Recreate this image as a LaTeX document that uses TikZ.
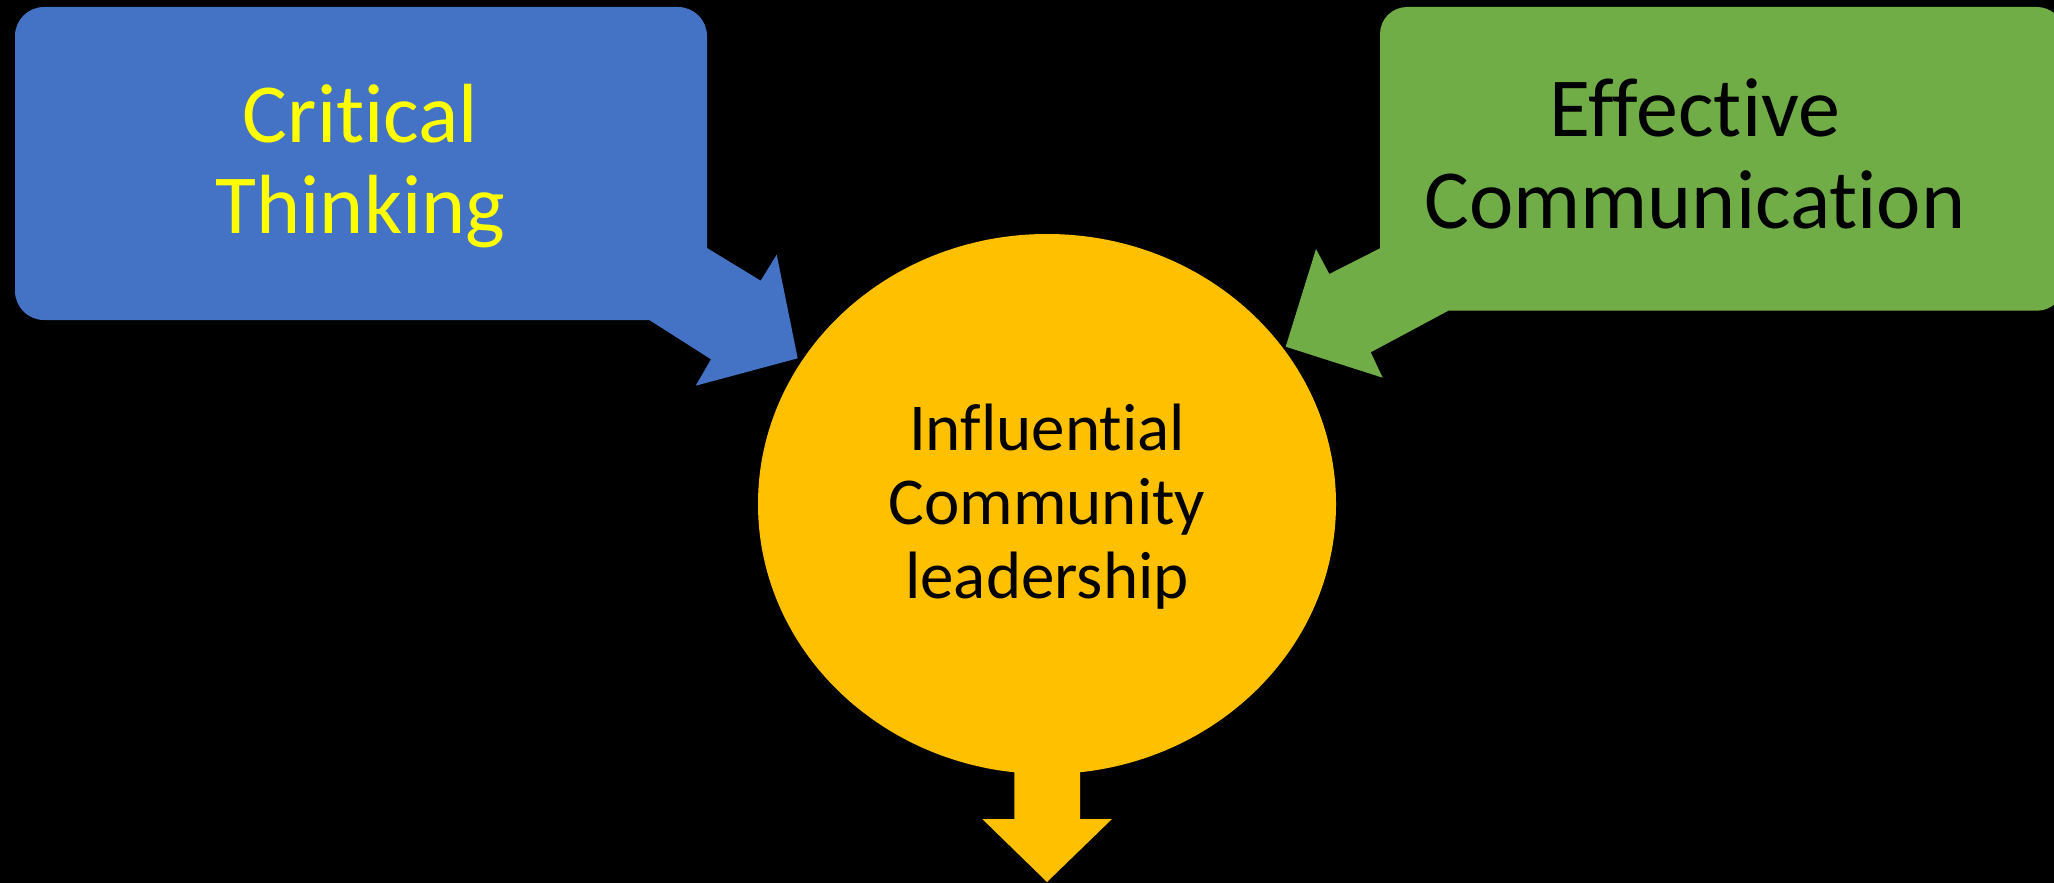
\documentclass[tikz,border=0pt]{standalone}
\usepackage{fontspec}
\setmainfont{Carlito}[Ligatures=NoCommon]
\definecolor{bgblack}{HTML}{000000}
\definecolor{calblue}{HTML}{4472C4}
\definecolor{calgreen}{HTML}{70AD47}
\definecolor{calgold}{HTML}{FFC000}
\definecolor{calyellow}{HTML}{FFFF00}
\tikzset{
  lbl/.style={inner sep=0pt, align=center, anchor=center},
  bluetext/.style={lbl, text=calyellow, font=\fontsize{84}{91}\selectfont},
  greentext/.style={lbl, text=black, font=\fontsize{84}{92}\selectfont},
  goldtext/.style={lbl, text=black, font=\fontsize{67}{74}\selectfont},
}
\begin{document}
\begin{tikzpicture}[x=1pt,y=-1pt]
  \fill[bgblack] (0,0) rectangle (2054,883);
  \useasboundingbox (0,0) rectangle (2054,883);
  % blue callout
  \fill[calblue] (400,320) [rounded corners=29pt] -- (15,320) -- (15,7) -- (707,7)
    [sharp corners] -- (707,248) -- (760.7,280.7) -- (776.7,254.7) -- (797.7,358.3) -- (695.7,385.7)
    -- (711,359.3) -- (649.3,320) -- cycle;
  % green callout
  \fill[calgreen] (1700,310.7) [rounded corners=27pt] -- (2064,310.7) -- (2064,7) -- (1380,7)
    [sharp corners] -- (1380,248.3) -- (1329.3,274) -- (1316,249) -- (1285.7,346.7) -- (1382.7,377.7)
    -- (1370.7,352.3) -- (1448.3,310.7) -- cycle;
  % central circle with down arrow
  \fill[calgold] (1047,504) ellipse [x radius=289, y radius=270];
  \fill[calgold] (1014.3,760) -- (1014.3,819) -- (982.3,819) -- (1047,882) -- (1112,819)
    -- (1080,819) -- (1080,760) -- cycle;
  % texts
  \node[bluetext] (ct) at (360.5,166.4) {Critical\\Thinking};
  \node[greentext] (ec) at (1695,153.9) {Effective\\Communication};
  \node[goldtext] (icl) at (1047,506.5) {Influential\\Community\\leadership};
\end{tikzpicture}
\end{document}
